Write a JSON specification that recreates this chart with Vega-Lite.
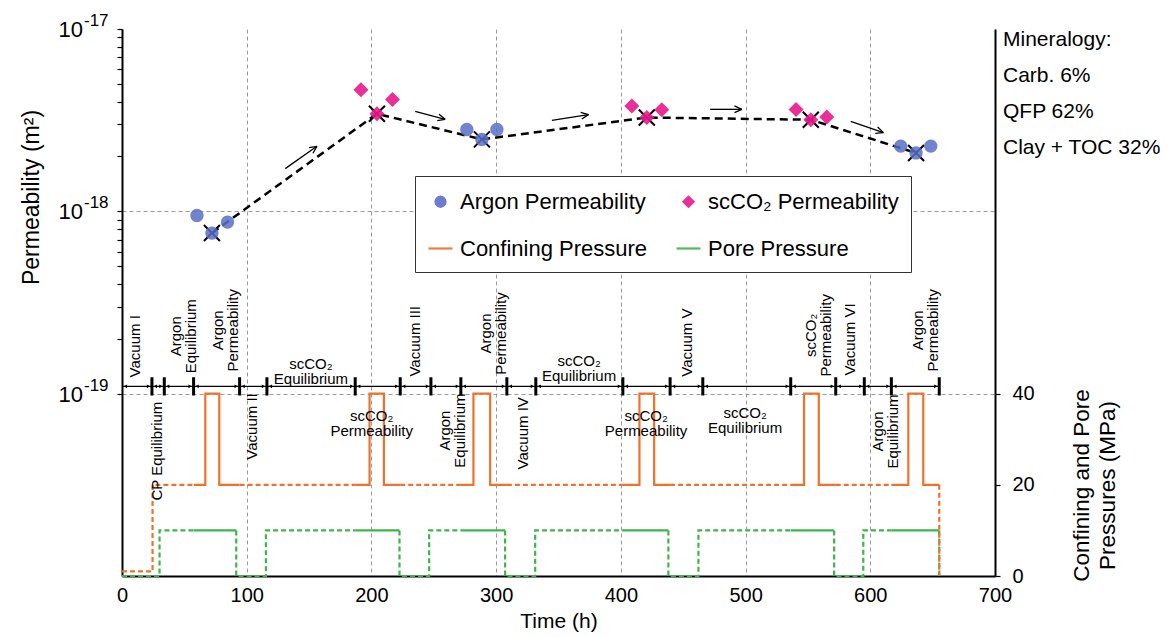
{
  "$schema": "https://vega.github.io/schema/vega-lite/v6.json",
  "width": 873,
  "height": 547,
  "autosize": "none",
  "padding": {"left": 122, "top": 29, "right": 179, "bottom": 61},
  "background": "white",
  "config": {
    "font": "Liberation Sans",
    "view": {"stroke": null},
    "axis": {"labelFont": "Liberation Sans", "titleFont": "Liberation Sans", "labelColor": "black", "titleColor": "black", "domainColor": "black", "tickColor": "black", "titleFontWeight": "normal", "labelOverlap": false},
    "text": {"font": "Liberation Sans", "color": "black"}
  },
  "datasets": {
    "perm": [
      {"series": "Argon Permeability", "t": 60.1, "k": 9.5e-19, "mean": false},
      {"series": "Argon Permeability", "t": 72.1, "k": 7.6e-19, "mean": true},
      {"series": "Argon Permeability", "t": 84.6, "k": 8.73e-19, "mean": false},
      {"series": "scCO₂ Permeability", "t": 191.6, "k": 4.65e-18, "mean": false},
      {"series": "scCO₂ Permeability", "t": 204.4, "k": 3.43e-18, "mean": true},
      {"series": "scCO₂ Permeability", "t": 216.9, "k": 4.11e-18, "mean": false},
      {"series": "Argon Permeability", "t": 276.5, "k": 2.81e-18, "mean": false},
      {"series": "Argon Permeability", "t": 288.6, "k": 2.48e-18, "mean": true},
      {"series": "Argon Permeability", "t": 300.6, "k": 2.81e-18, "mean": false},
      {"series": "scCO₂ Permeability", "t": 408.8, "k": 3.78e-18, "mean": false},
      {"series": "scCO₂ Permeability", "t": 420.8, "k": 3.27e-18, "mean": true},
      {"series": "scCO₂ Permeability", "t": 432.8, "k": 3.61e-18, "mean": false},
      {"series": "scCO₂ Permeability", "t": 540.5, "k": 3.62e-18, "mean": false},
      {"series": "scCO₂ Permeability", "t": 552.3, "k": 3.18e-18, "mean": true},
      {"series": "scCO₂ Permeability", "t": 565.1, "k": 3.29e-18, "mean": false},
      {"series": "Argon Permeability", "t": 624.4, "k": 2.28e-18, "mean": false},
      {"series": "Argon Permeability", "t": 636.7, "k": 2.09e-18, "mean": true},
      {"series": "Argon Permeability", "t": 648.5, "k": 2.28e-18, "mean": false}
    ],
    "decades": [
      {"k": 1e-17, "exponent": "-17"},
      {"k": 1e-18, "exponent": "-18"},
      {"k": 1e-19, "exponent": "-19"}
    ],
    "arrows": [
      {"t": 130.9, "k": 1.715e-18, "t2": 156.3, "k2": 2.273e-18},
      {"t": 150.0, "k": 2.233e-18, "t2": 156.3, "k2": 2.273e-18},
      {"t": 153.1, "k": 2.082e-18, "t2": 156.3, "k2": 2.273e-18},
      {"t": 235.1, "k": 3.535e-18, "t2": 259.1, "k2": 3.196e-18},
      {"t": 254.2, "k": 3.41e-18, "t2": 259.1, "k2": 3.196e-18},
      {"t": 252.8, "k": 3.141e-18, "t2": 259.1, "k2": 3.196e-18},
      {"t": 344.7, "k": 3.156e-18, "t2": 374.0, "k2": 3.391e-18},
      {"t": 367.8, "k": 3.487e-18, "t2": 374.0, "k2": 3.391e-18},
      {"t": 368.7, "k": 3.206e-18, "t2": 374.0, "k2": 3.391e-18},
      {"t": 471.6, "k": 3.626e-18, "t2": 497.0, "k2": 3.626e-18},
      {"t": 491.1, "k": 3.785e-18, "t2": 497.0, "k2": 3.626e-18},
      {"t": 491.1, "k": 3.475e-18, "t2": 497.0, "k2": 3.626e-18},
      {"t": 584.3, "k": 3.116e-18, "t2": 610.5, "k2": 2.702e-18},
      {"t": 605.9, "k": 2.9e-18, "t2": 610.5, "k2": 2.702e-18},
      {"t": 604.1, "k": 2.674e-18, "t2": 610.5, "k2": 2.702e-18}
    ],
    "pressure": [
      {"series": "Pore Pressure", "seg": "P1", "phase": "transition", "i": 0, "t": 0, "p": 0},
      {"series": "Pore Pressure", "seg": "P1", "phase": "transition", "i": 1, "t": 30.1, "p": 0},
      {"series": "Pore Pressure", "seg": "P1", "phase": "transition", "i": 2, "t": 30.1, "p": 10},
      {"series": "Pore Pressure", "seg": "P1", "phase": "transition", "i": 3, "t": 57.4, "p": 10},
      {"series": "Pore Pressure", "seg": "P2", "phase": "measurement", "i": 4, "t": 57.4, "p": 10},
      {"series": "Pore Pressure", "seg": "P2", "phase": "measurement", "i": 5, "t": 91.6, "p": 10},
      {"series": "Pore Pressure", "seg": "P3", "phase": "transition", "i": 6, "t": 91.6, "p": 10},
      {"series": "Pore Pressure", "seg": "P3", "phase": "transition", "i": 7, "t": 91.6, "p": 0},
      {"series": "Pore Pressure", "seg": "P3", "phase": "transition", "i": 8, "t": 115.4, "p": 0},
      {"series": "Pore Pressure", "seg": "P3", "phase": "transition", "i": 9, "t": 115.4, "p": 10},
      {"series": "Pore Pressure", "seg": "P3", "phase": "transition", "i": 10, "t": 187, "p": 10},
      {"series": "Pore Pressure", "seg": "P4", "phase": "measurement", "i": 11, "t": 187, "p": 10},
      {"series": "Pore Pressure", "seg": "P4", "phase": "measurement", "i": 12, "t": 222.5, "p": 10},
      {"series": "Pore Pressure", "seg": "P5", "phase": "transition", "i": 13, "t": 222.5, "p": 10},
      {"series": "Pore Pressure", "seg": "P5", "phase": "transition", "i": 14, "t": 222.5, "p": 0},
      {"series": "Pore Pressure", "seg": "P5", "phase": "transition", "i": 15, "t": 246.3, "p": 0},
      {"series": "Pore Pressure", "seg": "P5", "phase": "transition", "i": 16, "t": 246.3, "p": 10},
      {"series": "Pore Pressure", "seg": "P5", "phase": "transition", "i": 17, "t": 271.7, "p": 10},
      {"series": "Pore Pressure", "seg": "P6", "phase": "measurement", "i": 18, "t": 271.7, "p": 10},
      {"series": "Pore Pressure", "seg": "P6", "phase": "measurement", "i": 19, "t": 307.2, "p": 10},
      {"series": "Pore Pressure", "seg": "P7", "phase": "transition", "i": 20, "t": 307.2, "p": 10},
      {"series": "Pore Pressure", "seg": "P7", "phase": "transition", "i": 21, "t": 307.2, "p": 0},
      {"series": "Pore Pressure", "seg": "P7", "phase": "transition", "i": 22, "t": 331.3, "p": 0},
      {"series": "Pore Pressure", "seg": "P7", "phase": "transition", "i": 23, "t": 331.3, "p": 10},
      {"series": "Pore Pressure", "seg": "P7", "phase": "transition", "i": 24, "t": 401.6, "p": 10},
      {"series": "Pore Pressure", "seg": "P8", "phase": "measurement", "i": 25, "t": 401.6, "p": 10},
      {"series": "Pore Pressure", "seg": "P8", "phase": "measurement", "i": 26, "t": 438.1, "p": 10},
      {"series": "Pore Pressure", "seg": "P9", "phase": "transition", "i": 27, "t": 438.1, "p": 10},
      {"series": "Pore Pressure", "seg": "P9", "phase": "transition", "i": 28, "t": 438.1, "p": 0},
      {"series": "Pore Pressure", "seg": "P9", "phase": "transition", "i": 29, "t": 462.2, "p": 0},
      {"series": "Pore Pressure", "seg": "P9", "phase": "transition", "i": 30, "t": 462.2, "p": 10},
      {"series": "Pore Pressure", "seg": "P9", "phase": "transition", "i": 31, "t": 536.2, "p": 10},
      {"series": "Pore Pressure", "seg": "P10", "phase": "measurement", "i": 32, "t": 536.2, "p": 10},
      {"series": "Pore Pressure", "seg": "P10", "phase": "measurement", "i": 33, "t": 571, "p": 10},
      {"series": "Pore Pressure", "seg": "P11", "phase": "transition", "i": 34, "t": 571, "p": 10},
      {"series": "Pore Pressure", "seg": "P11", "phase": "transition", "i": 35, "t": 571, "p": 0},
      {"series": "Pore Pressure", "seg": "P11", "phase": "transition", "i": 36, "t": 594.4, "p": 0},
      {"series": "Pore Pressure", "seg": "P11", "phase": "transition", "i": 37, "t": 594.4, "p": 10},
      {"series": "Pore Pressure", "seg": "P11", "phase": "transition", "i": 38, "t": 616.9, "p": 10},
      {"series": "Pore Pressure", "seg": "P12", "phase": "measurement", "i": 39, "t": 616.9, "p": 10},
      {"series": "Pore Pressure", "seg": "P12", "phase": "measurement", "i": 40, "t": 655.3, "p": 10},
      {"series": "Pore Pressure", "seg": "P13", "phase": "transition", "i": 41, "t": 655.3, "p": 10},
      {"series": "Pore Pressure", "seg": "P13", "phase": "transition", "i": 42, "t": 655.3, "p": 0},
      {"series": "Confining Pressure", "seg": "C1", "phase": "transition", "i": 43, "t": 0, "p": 1},
      {"series": "Confining Pressure", "seg": "C1", "phase": "transition", "i": 44, "t": 24.5, "p": 1},
      {"series": "Confining Pressure", "seg": "C1", "phase": "transition", "i": 45, "t": 24.5, "p": 20},
      {"series": "Confining Pressure", "seg": "C1", "phase": "transition", "i": 46, "t": 57.4, "p": 20},
      {"series": "Confining Pressure", "seg": "C2", "phase": "measurement", "i": 47, "t": 57.4, "p": 20},
      {"series": "Confining Pressure", "seg": "C2", "phase": "measurement", "i": 48, "t": 66.8, "p": 20},
      {"series": "Confining Pressure", "seg": "C2", "phase": "measurement", "i": 49, "t": 66.8, "p": 40},
      {"series": "Confining Pressure", "seg": "C2", "phase": "measurement", "i": 50, "t": 78, "p": 40},
      {"series": "Confining Pressure", "seg": "C2", "phase": "measurement", "i": 51, "t": 78, "p": 20},
      {"series": "Confining Pressure", "seg": "C2", "phase": "measurement", "i": 52, "t": 94.3, "p": 20},
      {"series": "Confining Pressure", "seg": "C3", "phase": "transition", "i": 53, "t": 94.3, "p": 20},
      {"series": "Confining Pressure", "seg": "C3", "phase": "transition", "i": 54, "t": 187, "p": 20},
      {"series": "Confining Pressure", "seg": "C4", "phase": "measurement", "i": 55, "t": 187, "p": 20},
      {"series": "Confining Pressure", "seg": "C4", "phase": "measurement", "i": 56, "t": 198.5, "p": 20},
      {"series": "Confining Pressure", "seg": "C4", "phase": "measurement", "i": 57, "t": 198.5, "p": 40},
      {"series": "Confining Pressure", "seg": "C4", "phase": "measurement", "i": 58, "t": 210, "p": 40},
      {"series": "Confining Pressure", "seg": "C4", "phase": "measurement", "i": 59, "t": 210, "p": 20},
      {"series": "Confining Pressure", "seg": "C4", "phase": "measurement", "i": 60, "t": 223.1, "p": 20},
      {"series": "Confining Pressure", "seg": "C5", "phase": "transition", "i": 61, "t": 223.1, "p": 20},
      {"series": "Confining Pressure", "seg": "C5", "phase": "transition", "i": 62, "t": 271.7, "p": 20},
      {"series": "Confining Pressure", "seg": "C6", "phase": "measurement", "i": 63, "t": 271.7, "p": 20},
      {"series": "Confining Pressure", "seg": "C6", "phase": "measurement", "i": 64, "t": 281.8, "p": 20},
      {"series": "Confining Pressure", "seg": "C6", "phase": "measurement", "i": 65, "t": 281.8, "p": 40},
      {"series": "Confining Pressure", "seg": "C6", "phase": "measurement", "i": 66, "t": 295.2, "p": 40},
      {"series": "Confining Pressure", "seg": "C6", "phase": "measurement", "i": 67, "t": 295.2, "p": 20},
      {"series": "Confining Pressure", "seg": "C6", "phase": "measurement", "i": 68, "t": 308.6, "p": 20},
      {"series": "Confining Pressure", "seg": "C7", "phase": "transition", "i": 69, "t": 308.6, "p": 20},
      {"series": "Confining Pressure", "seg": "C7", "phase": "transition", "i": 70, "t": 401.6, "p": 20},
      {"series": "Confining Pressure", "seg": "C8", "phase": "measurement", "i": 71, "t": 401.6, "p": 20},
      {"series": "Confining Pressure", "seg": "C8", "phase": "measurement", "i": 72, "t": 414.9, "p": 20},
      {"series": "Confining Pressure", "seg": "C8", "phase": "measurement", "i": 73, "t": 414.9, "p": 40},
      {"series": "Confining Pressure", "seg": "C8", "phase": "measurement", "i": 74, "t": 426.7, "p": 40},
      {"series": "Confining Pressure", "seg": "C8", "phase": "measurement", "i": 75, "t": 426.7, "p": 20},
      {"series": "Confining Pressure", "seg": "C8", "phase": "measurement", "i": 76, "t": 439.5, "p": 20},
      {"series": "Confining Pressure", "seg": "C9", "phase": "transition", "i": 77, "t": 439.5, "p": 20},
      {"series": "Confining Pressure", "seg": "C9", "phase": "transition", "i": 78, "t": 536.2, "p": 20},
      {"series": "Confining Pressure", "seg": "C10", "phase": "measurement", "i": 79, "t": 536.2, "p": 20},
      {"series": "Confining Pressure", "seg": "C10", "phase": "measurement", "i": 80, "t": 546.9, "p": 20},
      {"series": "Confining Pressure", "seg": "C10", "phase": "measurement", "i": 81, "t": 546.9, "p": 40},
      {"series": "Confining Pressure", "seg": "C10", "phase": "measurement", "i": 82, "t": 558.7, "p": 40},
      {"series": "Confining Pressure", "seg": "C10", "phase": "measurement", "i": 83, "t": 558.7, "p": 20},
      {"series": "Confining Pressure", "seg": "C10", "phase": "measurement", "i": 84, "t": 572.3, "p": 20},
      {"series": "Confining Pressure", "seg": "C11", "phase": "transition", "i": 85, "t": 572.3, "p": 20},
      {"series": "Confining Pressure", "seg": "C11", "phase": "transition", "i": 86, "t": 616.9, "p": 20},
      {"series": "Confining Pressure", "seg": "C12", "phase": "measurement", "i": 87, "t": 616.9, "p": 20},
      {"series": "Confining Pressure", "seg": "C12", "phase": "measurement", "i": 88, "t": 630.5, "p": 20},
      {"series": "Confining Pressure", "seg": "C12", "phase": "measurement", "i": 89, "t": 630.5, "p": 40},
      {"series": "Confining Pressure", "seg": "C12", "phase": "measurement", "i": 90, "t": 642.5, "p": 40},
      {"series": "Confining Pressure", "seg": "C12", "phase": "measurement", "i": 91, "t": 642.5, "p": 20},
      {"series": "Confining Pressure", "seg": "C12", "phase": "measurement", "i": 92, "t": 655.3, "p": 20},
      {"series": "Confining Pressure", "seg": "C13", "phase": "transition", "i": 93, "t": 655.3, "p": 20},
      {"series": "Confining Pressure", "seg": "C13", "phase": "transition", "i": 94, "t": 655.3, "p": 0}
    ],
    "phases": [
      {"name": "Vacuum I", "start": 0, "end": 24},
      {"name": "CP Equilibrium", "start": 24, "end": 33.9},
      {"name": "Argon Equilibrium", "start": 33.9, "end": 57.4},
      {"name": "Argon Permeability", "start": 57.4, "end": 94.3},
      {"name": "Vacuum II", "start": 94.3, "end": 116.2},
      {"name": "scCO2 Equilibrium", "start": 116.2, "end": 187},
      {"name": "scCO2 Permeability", "start": 187, "end": 223.1},
      {"name": "Vacuum III", "start": 223.1, "end": 247.7},
      {"name": "Argon Equilibrium", "start": 247.7, "end": 271.7},
      {"name": "Argon Permeability", "start": 271.7, "end": 308.6},
      {"name": "Vacuum IV", "start": 308.6, "end": 331.8},
      {"name": "scCO2 Equilibrium", "start": 331.8, "end": 401.6},
      {"name": "scCO2 Permeability", "start": 401.6, "end": 439.5},
      {"name": "Vacuum V", "start": 439.5, "end": 465.7},
      {"name": "scCO2 Equilibrium", "start": 465.7, "end": 536.2},
      {"name": "scCO2 Permeability", "start": 536.2, "end": 572.3},
      {"name": "Vacuum VI", "start": 572.3, "end": 595.2},
      {"name": "Argon Equilibrium", "start": 595.2, "end": 616.9},
      {"name": "Argon Permeability", "start": 616.9, "end": 655.3}
    ],
    "vlabels": [
      {"t": 10.7, "p": 50.4, "label": "Vacuum I"},
      {"t": 43.5, "p": 52.6, "label": "Argon\nEquilibrium"},
      {"t": 77.2, "p": 53.9, "label": "Argon\nPermeability"},
      {"t": 235.1, "p": 51.5, "label": "Vacuum III"},
      {"t": 291.8, "p": 53.2, "label": "Argon\nPermeability"},
      {"t": 452.9, "p": 51.2, "label": "Vacuum V"},
      {"t": 552.3, "p": 52.8, "label": "scCO₂\nPermeability"},
      {"t": 583.8, "p": 51.9, "label": "Vacuum VI"},
      {"t": 638.5, "p": 53.9, "label": "Argon\nPermeability"},
      {"t": 28.3, "p": 27.4, "label": "CP Equilibrium"},
      {"t": 104.2, "p": 32.8, "label": "Vacuum II"},
      {"t": 259.1, "p": 31.9, "label": "Argon\nEquilibrium"},
      {"t": 321.4, "p": 31.3, "label": "Vacuum IV"},
      {"t": 605.8, "p": 31.7, "label": "Argon\nEquilibrium"}
    ],
    "hlabels": [
      {"t": 151.5, "p": 46.5, "label": "scCO₂\nEquilibrium"},
      {"t": 366.5, "p": 47.1, "label": "scCO₂\nEquilibrium"},
      {"t": 200.2, "p": 35.0, "label": "scCO₂\nPermeability"},
      {"t": 420.2, "p": 35.2, "label": "scCO₂\nPermeability"},
      {"t": 499.6, "p": 35.7, "label": "scCO₂\nEquilibrium"}
    ]
  },
  "layer": [
    {
      "layer": [
        {
          "data": {"name": "perm"},
          "transform": [{"filter": "datum.mean"}],
          "mark": {"type": "line", "interpolate": "linear", "color": "black", "strokeWidth": 2.5, "strokeDash": [8, 5]},
          "encoding": {
            "x": {"field": "t", "type": "quantitative", "scale": {"domain": [0, 700], "nice": false},
              "axis": {"orient": "bottom", "values": [0, 100, 200, 300, 400, 500, 600, 700], "grid": true, "gridDash": [4, 3], "gridColor": "#9a9a9a", "gridWidth": 1, "ticks": false, "domainWidth": 2, "labelFontSize": 20, "labelPadding": 9, "labelFlush": false, "title": "Time (h)", "titleFontSize": 21, "titlePadding": 5}},
            "y": {"field": "k", "type": "quantitative", "scale": {"type": "log", "domain": [1e-20, 1e-17]},
              "axis": {"orient": "left", "values": [1e-19, 2e-19, 3e-19, 4e-19, 5e-19, 6e-19, 7e-19, 8e-19, 9e-19, 1e-18, 2e-18, 3e-18, 4e-18, 5e-18, 6e-18, 7e-18, 8e-18, 9e-18, 1e-17],
                "labels": false,
                "grid": true, "gridOpacity": {"condition": {"test": "datum.value == 1e-18 || datum.value == 1e-19", "value": 1}, "value": 0},
                "gridDash": [4, 3], "gridColor": "#9a9a9a", "gridWidth": 1,
                "tickSize": 5, "tickWidth": 1.2, "domainWidth": 2,
                "title": "Permeability (m²)", "titleFontSize": 23, "titleAngle": 270, "titleX": -91, "titleY": 168, "titleAlign": "center", "titleBaseline": "middle"}}
          }
        },
        {
          "data": {"name": "decades"},
          "mark": {"type": "text", "align": "right", "baseline": "middle", "dx": -39, "dy": 1, "fontSize": 22, "text": "10", "color": "black"},
          "encoding": {
            "x": {"datum": 0, "type": "quantitative"},
            "y": {"field": "k", "type": "quantitative", "scale": {"type": "log", "domain": [1e-20, 1e-17]}}
          }
        },
        {
          "data": {"name": "decades"},
          "mark": {"type": "text", "align": "left", "baseline": "middle", "dx": -38, "dy": -8, "fontSize": 17, "color": "black"},
          "encoding": {
            "x": {"datum": 0, "type": "quantitative"},
            "y": {"field": "k", "type": "quantitative", "scale": {"type": "log", "domain": [1e-20, 1e-17]}},
            "text": {"field": "exponent"}
          }
        },
        {
          "data": {"name": "perm"},
          "transform": [{"filter": "datum.mean"}],
          "mark": {"type": "point", "shape": "M-1,-1L1,1M-1,1L1,-1", "size": 256, "filled": false, "stroke": "black", "strokeWidth": 2, "opacity": 1},
          "encoding": {
            "x": {"field": "t", "type": "quantitative", "scale": {"domain": [0, 700], "nice": false}},
            "y": {"field": "k", "type": "quantitative", "scale": {"type": "log", "domain": [1e-20, 1e-17]}}
          }
        },
        {
          "data": {"name": "perm"},
          "transform": [{"filter": "datum.series == 'Argon Permeability'"}],
          "mark": {"type": "point", "size": 1003, "filled": true, "opacity": 0.85},
          "encoding": {
            "x": {"field": "t", "type": "quantitative", "scale": {"domain": [0, 700], "nice": false}},
            "y": {"field": "k", "type": "quantitative", "scale": {"type": "log", "domain": [1e-20, 1e-17]}},
            "color": {"field": "series", "type": "nominal",
              "scale": {"domain": ["Argon Permeability", "scCO₂ Permeability", "Confining Pressure", "Pore Pressure"], "range": ["#5B6FC6", "#E8198B", "#F0712C", "#3DB54A"]},
              "legend": {"orient": "none", "legendX": 293, "legendY": 147, "columns": 2, "direction": "horizontal", "title": null,
                "labelFontSize": 22, "labelFont": "Liberation Sans", "labelColor": "black", "labelLimit": 400,
                "symbolSize": 576, "symbolStrokeWidth": 2.2, "symbolOpacity": 1, "labelOffset": 6, "columnPadding": 24, "rowPadding": 22, "padding": 12,
                "strokeColor": "#333333", "fillColor": "white"}},
            "shape": {"field": "series", "type": "nominal",
              "scale": {"domain": ["Argon Permeability", "scCO₂ Permeability", "Confining Pressure", "Pore Pressure"],
                "range": ["M0.42,0A0.42,0.42,0,1,1,-0.42,0A0.42,0.42,0,1,1,0.42,0Z", "M0,-0.42L0.42,0L0,0.42L-0.42,0Z", "M-1,0L1,0", "M-1,0L1,0"]}}
          }
        },
        {
          "data": {"name": "perm"},
          "transform": [{"filter": "datum.series == 'scCO₂ Permeability'"}],
          "mark": {"type": "point", "size": 1276, "filled": true, "opacity": 0.9},
          "encoding": {
            "x": {"field": "t", "type": "quantitative", "scale": {"domain": [0, 700], "nice": false}},
            "y": {"field": "k", "type": "quantitative", "scale": {"type": "log", "domain": [1e-20, 1e-17]}},
            "color": {"field": "series", "type": "nominal",
              "scale": {"domain": ["Argon Permeability", "scCO₂ Permeability", "Confining Pressure", "Pore Pressure"], "range": ["#5B6FC6", "#E8198B", "#F0712C", "#3DB54A"]}},
            "shape": {"field": "series", "type": "nominal",
              "scale": {"domain": ["Argon Permeability", "scCO₂ Permeability", "Confining Pressure", "Pore Pressure"],
                "range": ["M0.42,0A0.42,0.42,0,1,1,-0.42,0A0.42,0.42,0,1,1,0.42,0Z", "M0,-0.42L0.42,0L0,0.42L-0.42,0Z", "M-1,0L1,0", "M-1,0L1,0"]}}
          }
        },
        {
          "data": {"name": "arrows"},
          "mark": {"type": "rule", "color": "black", "strokeWidth": 1.3},
          "encoding": {
            "x": {"field": "t", "type": "quantitative", "scale": {"domain": [0, 700], "nice": false}},
            "x2": {"field": "t2"},
            "y": {"field": "k", "type": "quantitative", "scale": {"type": "log", "domain": [1e-20, 1e-17]}},
            "y2": {"field": "k2"}
          }
        },
        {
          "data": {"values": [{}]},
          "mark": {"type": "text", "align": "left", "baseline": "top", "dx": 8, "fontSize": 21, "lineBreak": "\n", "lineHeight": 36, "color": "black"},
          "encoding": {
            "x": {"datum": 700, "type": "quantitative"},
            "y": {"datum": 1e-17, "type": "quantitative"},
            "text": {"value": "Mineralogy:\nCarb. 6%\nQFP 62%\nClay + TOC 32%"}
          }
        }
      ]
    },
    {
      "layer": [
        {
          "data": {"name": "pressure"},
          "mark": {"type": "line", "strokeWidth": 2.2, "interpolate": "linear"},
          "encoding": {
            "x": {"field": "t", "type": "quantitative", "scale": {"domain": [0, 700], "nice": false}},
            "y": {"field": "p", "type": "quantitative", "scale": {"domain": [0, 120], "nice": false, "zero": true},
              "axis": {"orient": "right", "values": [0, 20, 40], "grid": false, "tickSize": 5, "tickWidth": 1.2, "domainWidth": 2, "labelFontSize": 20, "labelPadding": 12,
                "title": ["Confining and Pore", "Pressures (MPa)"], "titleFontSize": 22.5, "titleAngle": 270, "titleX": 86, "titleY": 456, "titleAlign": "center", "titleBaseline": "middle", "titleLineHeight": 26}},
            "color": {"field": "series", "type": "nominal",
              "scale": {"domain": ["Argon Permeability", "scCO₂ Permeability", "Confining Pressure", "Pore Pressure"], "range": ["#5B6FC6", "#E8198B", "#F0712C", "#3DB54A"]}},
            "strokeDash": {"field": "phase", "type": "nominal", "scale": {"domain": ["transition", "measurement"], "range": [[5, 3], [1, 0]]}, "legend": null},
            "detail": {"field": "seg"},
            "order": {"field": "i", "type": "quantitative"}
          }
        },
        {
          "data": {"name": "phases"},
          "mark": {"type": "rule", "color": "black", "strokeWidth": 1.2},
          "encoding": {
            "x": {"field": "start", "type": "quantitative", "scale": {"domain": [0, 700], "nice": false}},
            "x2": {"field": "end"},
            "y": {"datum": 41.6, "type": "quantitative", "scale": {"domain": [0, 120], "nice": false}}
          }
        },
        {
          "data": {"name": "phases"},
          "mark": {"type": "rule", "color": "black", "strokeWidth": 3},
          "encoding": {
            "x": {"field": "end", "type": "quantitative", "scale": {"domain": [0, 700], "nice": false}},
            "y": {"datum": 39.6, "type": "quantitative", "scale": {"domain": [0, 120], "nice": false}},
            "y2": {"datum": 43.6}
          }
        },
        {
          "data": {"name": "phases"},
          "mark": {"type": "point", "shape": "triangle-left", "size": 14, "filled": true, "color": "black", "opacity": 1, "xOffset": 3.5},
          "encoding": {
            "x": {"field": "start", "type": "quantitative", "scale": {"domain": [0, 700], "nice": false}},
            "y": {"datum": 41.6, "type": "quantitative", "scale": {"domain": [0, 120], "nice": false}}
          }
        },
        {
          "data": {"name": "phases"},
          "mark": {"type": "point", "shape": "triangle-right", "size": 14, "filled": true, "color": "black", "opacity": 1, "xOffset": -3.5},
          "encoding": {
            "x": {"field": "end", "type": "quantitative", "scale": {"domain": [0, 700], "nice": false}},
            "y": {"datum": 41.6, "type": "quantitative", "scale": {"domain": [0, 120], "nice": false}}
          }
        },
        {
          "data": {"name": "vlabels"},
          "mark": {"type": "text", "angle": 270, "align": "center", "baseline": "middle", "fontSize": 15, "lineHeight": 15, "lineBreak": "\n", "color": "black"},
          "encoding": {
            "x": {"field": "t", "type": "quantitative", "scale": {"domain": [0, 700], "nice": false}},
            "y": {"field": "p", "type": "quantitative", "scale": {"domain": [0, 120], "nice": false}},
            "text": {"field": "label"}
          }
        },
        {
          "data": {"name": "hlabels"},
          "mark": {"type": "text", "align": "center", "baseline": "middle", "fontSize": 15, "lineHeight": 15, "lineBreak": "\n", "color": "black"},
          "encoding": {
            "x": {"field": "t", "type": "quantitative", "scale": {"domain": [0, 700], "nice": false}},
            "y": {"field": "p", "type": "quantitative", "scale": {"domain": [0, 120], "nice": false}},
            "text": {"field": "label"}
          }
        }
      ]
    }
  ],
  "resolve": {"scale": {"y": "independent"}}
}
